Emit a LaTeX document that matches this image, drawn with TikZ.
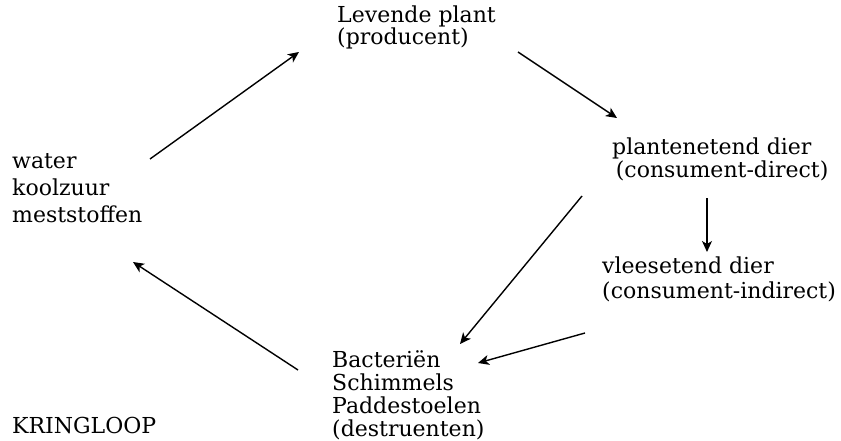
\documentclass[tikz,border=0pt]{standalone}
\usepackage{fontspec}
\setmainfont{DejaVu Serif}
\usetikzlibrary{arrows.meta}
\newcommand{\stack}[2]{\vtop{\baselineskip=#1\relax\halign{##\hfil\cr#2\crcr}}}
\tikzset{
  lbl/.style={inner sep=0pt, anchor=base west, font=\fontsize{22}{26}\selectfont},
  arr/.style={line width=1.4pt, -{Stealth[length=11pt,width=10pt,inset=3pt]}},
}
\begin{document}
\begin{tikzpicture}[x=1pt,y=-1pt]
\useasboundingbox (0,0) rectangle (841,441);
\node[lbl] (plant) at (337,23) {\stack{22pt}{Levende plant\cr(producent)}};
\node[lbl] (herb) at (612,155) {\stack{23pt}{plantenetend dier\cr\,(consument-direct)}};
\node[lbl] (carn) at (602,273) {\stack{25pt}{vleesetend dier\cr(consument-indirect)}};
\node[lbl] (dest) at (332,367) {\stack{23pt}{Bacteriën\cr Schimmels\cr Paddestoelen\cr(destruenten)}};
\node[lbl] (water) at (12,169) {\stack{27pt}{water\cr koolzuur\cr meststoffen}};
\node[lbl] (kring) at (12,433) {KRINGLOOP};
\coordinate (w-out) at (150,159);
\coordinate (p-in) at (299,52);
\coordinate (p-out) at (518,52);
\coordinate (h-in) at (617,118);
\coordinate (h-out1) at (582,196);
\coordinate (d-in1) at (460,344);
\coordinate (c-out) at (585,333);
\coordinate (d-in2) at (478,363);
\coordinate (h-out2) at (707,198);
\coordinate (c-in) at (707,252);
\coordinate (d-out) at (298,370);
\coordinate (w-in) at (133,262);
\draw[arr] (w-out) -- (p-in);
\draw[arr] (p-out) -- (h-in);
\draw[arr] (h-out1) -- (d-in1);
\draw[arr] (c-out) -- (d-in2);
\draw[arr] (h-out2) -- (c-in);
\draw[arr] (d-out) -- (w-in);
\end{tikzpicture}
\end{document}
